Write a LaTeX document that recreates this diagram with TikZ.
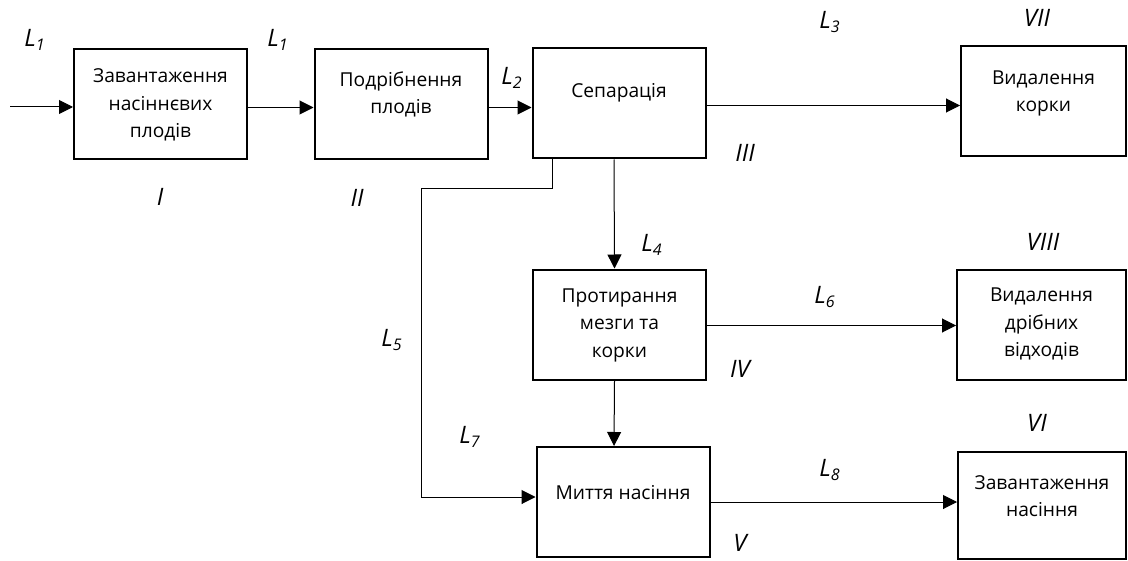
\documentclass[tikz,border=0pt]{standalone}
\usepackage{fontspec}
\setmainfont{Open Sans}
\usetikzlibrary{arrows.meta}

\begin{document}
\begin{tikzpicture}[x=0.5pt, y=-0.5pt,
        blok/.style={draw, line width=1pt, minimum width=86.5pt, minimum height=55pt, inner sep=0pt},
        nadpys/.style={font=\fontsize{9.6}{13.75}\selectfont, align=center},
        mitka/.style={font=\fontsize{12}{14}\selectfont\itshape},
        potik/.style={-{Triangle[length=7pt, width=7pt]}, line width=0.5pt}]
        \useasboundingbox (0, 0) rectangle (1128, 561);

        % Draw the process blocks
        \node[blok] (zav) at (160.5, 104.5) {};
        \node[nadpys] (zavt) at (160.5, 105) {Завантаження\\насіннєвих\\плодів};

        \node[blok] (pod) at (401, 104.5) {};
        \node[nadpys] (podt) at (401, 94.5) {Подрібнення\\плодів};

        \node[blok] (sep) at (619, 103.5) {};
        \node[nadpys] (sept) at (619, 93) {Сепарація};

        \node[blok] (prot) at (619.5, 324.5) {};
        \node[nadpys] (prott) at (619.5, 325) {Протирання\\мезги та\\корки};

        \node[blok] (myt) at (623, 502) {};
        \node[nadpys] (mytt) at (623, 493) {Миття насіння};

        \node[blok, minimum width=82.5pt] (kor) at (1043.5, 101.5) {};
        \node[nadpys] (kort) at (1043.5, 93.5) {Видалення\\корки};

        \node[blok, minimum width=84.5pt] (vid) at (1041.5, 324.5) {};
        \node[nadpys] (vidt) at (1041.5, 324) {Видалення\\дрібних\\відходів};

        \node[blok, minimum width=84pt, minimum height=53.5pt] (nas) at (1042, 505.5) {};
        \node[nadpys] (nast) at (1042, 496) {Завантаження\\насіння};

        % Add the flows between blocks
        \coordinate (vhid) at (10, 107);
        \coordinate (povorot) at (421, 189);
        \draw[potik] (vhid) -- (vhid -| zav.west);
        \draw[potik] ([yshift=-1.5pt]zav.east) -- ([yshift=-1.5pt]pod.west);
        \draw[potik] ([yshift=-1.5pt]pod.east) -- ([yshift=-2pt]sep.west);
        \draw[potik] ([yshift=-1pt]sep.east) -- ([yshift=-1pt]sep.east -| kor.west);
        \draw[potik] ([xshift=-2.5pt]sep.south) -- ([xshift=-2.5pt]prot.north);
        \draw[potik] ([xshift=-2.5pt]prot.south) -- ([xshift=-4.5pt]myt.north);
        \draw[potik] ([yshift=-0.5pt]prot.east) -- ([yshift=-0.5pt]prot.east -| vid.west);
        \draw[potik] (myt.east) -- (myt.east -| nas.west);
        \draw[potik] ([xshift=-33.5pt]sep.south) |- (povorot) |- ([yshift=2.5pt]myt.west);

        % Add the flow labels
        \node[mitka] (l1a) at (35, 40) {L\textsubscript{1}};
        \node[mitka] (l1b) at (278, 40) {L\textsubscript{1}};
        \node[mitka] (l2) at (512, 78) {L\textsubscript{2}};
        \node[mitka] (l3) at (830, 22) {L\textsubscript{3}};
        \node[mitka] (l4) at (652, 245) {L\textsubscript{4}};
        \node[mitka] (l5) at (392, 340) {L\textsubscript{5}};
        \node[mitka] (l6) at (825, 297) {L\textsubscript{6}};
        \node[mitka] (l7) at (470, 437) {L\textsubscript{7}};
        \node[mitka] (l8) at (830, 470) {L\textsubscript{8}};

        % Add the block numbers
        \node[mitka] (n1) at (160, 197) {I};
        \node[mitka] (n2) at (357, 198) {II};
        \node[mitka] (n3) at (745, 153) {III};
        \node[mitka] (n4) at (740, 369) {IV};
        \node[mitka] (n5) at (740, 543) {V};
        \node[mitka] (n6) at (1037, 423) {VI};
        \node[mitka] (n7) at (1037, 18) {VII};
        \node[mitka] (n8) at (1043, 242) {VIII};
    \end{tikzpicture}
\end{document}
